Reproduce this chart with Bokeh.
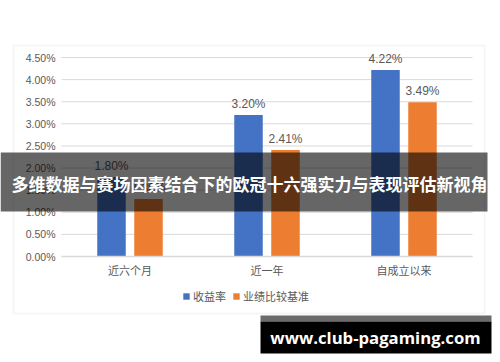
from bokeh.plotting import figure
from bokeh.models import (ColumnDataSource, Range1d, FixedTicker, NumeralTickFormatter,
                          LabelSet, Legend, LegendItem, BoxAnnotation, Label, LinearAxis)
from bokeh.transform import dodge
from bokeh.core.properties import value
from bokeh.embed import file_html
from bokeh.resources import INLINE

# ---- data ----
periods = ["近六个月", "近一年", "自成立以来"]
returns_pct = [1.80, 3.20, 4.22]
benchmark_pct = [1.30, 2.41, 3.49]
series_names = ["收益率", "业绩比较基准"]
y_ticks = [0.0, 0.005, 0.010, 0.015, 0.020, 0.025, 0.030, 0.035, 0.040, 0.045]
banner_text = "多维数据与赛场因素结合下的欧冠十六强实力与表现评估新视角"
watermark_text = "www.club-pagaming.com"

# category centres on a numeric axis (one unit per category)
xc = [i + 0.5 for i in range(len(periods))]
src = ColumnDataSource(dict(
    xc=xc,
    ret=[v / 100 for v in returns_pct],
    bench=[v / 100 for v in benchmark_pct],
    ret_lbl=[f"{v:.2f}%" for v in returns_pct],
    bench_lbl=[f"{v:.2f}%" for v in benchmark_pct],
))
grid_src = ColumnDataSource(dict(y=y_ticks, x0=[0] * len(y_ticks), x1=[len(periods)] * len(y_ticks)))

BLUE = "#4472C4"
ORANGE = "#ED7D31"
TXT = "#595959"
GRID = "#d9d9d9"
NUM_FONT = "Liberation Sans"
CJK_FONT = "Noto Sans CJK SC"

W, H = 500, 362
# layout of the plotting area inside the full canvas (pixels)
PX_L, PX_R, PX_T, PX_B = 61, 472, 57, 256
ux = (PX_R - PX_L) / len(periods)
uy = (PX_B - PX_T) / y_ticks[-1]
x_range = Range1d(-PX_L / ux, len(periods) + (W - PX_R) / ux)
y_range = Range1d(-(H - PX_B) / uy, y_ticks[-1] + PX_T / uy)

p = figure(width=W, height=H, x_range=x_range, y_range=y_range,
           output_backend="svg", toolbar_location=None, x_axis_type=None, y_axis_type=None,
           min_border=0, min_border_left=0, min_border_right=0,
           min_border_top=0, min_border_bottom=0)
p.outline_line_color = None
p.background_fill_color = "white"
p.border_fill_color = "white"
p.xgrid.visible = False
p.ygrid.visible = False

# outer chart frame
p.add_layout(BoxAnnotation(left=13, right=484, top=45, bottom=313,
                           left_units="canvas", right_units="canvas",
                           top_units="canvas", bottom_units="canvas",
                           fill_alpha=0, line_color=GRID, line_width=1.5, level="underlay"))

# horizontal gridlines at the y ticks
p.segment(x0="x0", x1="x1", y0="y", y1="y", source=grid_src, line_color=GRID, line_width=1,
          level="underlay")

# y axis
yaxis = LinearAxis(fixed_location=0, ticker=FixedTicker(ticks=y_ticks),
                   formatter=NumeralTickFormatter(format="0.00%"),
                   axis_line_color=None, major_tick_line_color=None, minor_tick_line_color=None,
                   major_tick_out=0, major_tick_in=0, minor_tick_out=0, minor_tick_in=0,
                   major_label_text_color=TXT, major_label_text_font=NUM_FONT,
                   major_label_text_font_size="10.5px", major_label_standoff=6)
p.add_layout(yaxis, "left")

# x axis
xaxis = LinearAxis(fixed_location=0, ticker=FixedTicker(ticks=xc),
                   major_label_overrides={x: lab for x, lab in zip(xc, periods)},
                   bounds=(0, len(periods)),
                   axis_line_color=GRID, axis_line_width=1.5,
                   major_tick_line_color=None, minor_tick_line_color=None,
                   major_tick_out=0, major_tick_in=0, minor_tick_out=0, minor_tick_in=0,
                   major_label_text_color=TXT, major_label_text_font=CJK_FONT,
                   major_label_text_font_size="11px", major_label_standoff=5)
p.add_layout(xaxis, "below")

OFF = 0.135
BW = 0.208
r1 = p.vbar(x=dodge("xc", -OFF), top="ret", width=BW, source=src,
            fill_color=BLUE, line_color=None)
r2 = p.vbar(x=dodge("xc", OFF), top="bench", width=BW, source=src,
            fill_color=ORANGE, line_color=None)

for xoff, col, lbl in [(-OFF, "ret", "ret_lbl"), (OFF, "bench", "bench_lbl")]:
    p.add_layout(LabelSet(x=dodge("xc", xoff), y=col, text=lbl, source=src,
                          text_align="center", text_baseline="bottom", y_offset=4,
                          text_font=value(NUM_FONT), text_font_size=value("12px"),
                          text_color=TXT))

legend = Legend(items=[LegendItem(label=series_names[0], renderers=[r1]),
                       LegendItem(label=series_names[1], renderers=[r2])],
                orientation="horizontal", location=(182, 58),
                glyph_width=8, glyph_height=8, label_text_font=CJK_FONT,
                label_text_font_size="11px", label_text_color=TXT,
                border_line_color=None, background_fill_alpha=0,
                padding=0, margin=0, spacing=6, label_standoff=3)
p.add_layout(legend)

# banner overlay
p.add_layout(BoxAnnotation(left=0, right=487, top=152, bottom=211,
                           left_units="canvas", right_units="canvas",
                           top_units="canvas", bottom_units="canvas",
                           fill_color="black", fill_alpha=0.6, line_color=None))
p.add_layout(Label(x=249, y=183, x_units="canvas", y_units="canvas", text=banner_text,
                   text_align="center", text_baseline="middle", text_color="white",
                   text_font=CJK_FONT, text_font_style="bold", text_font_size="17px"))

# watermark
p.add_layout(BoxAnnotation(left=260, right=491, top=315, bottom=321,
                           left_units="canvas", right_units="canvas",
                           top_units="canvas", bottom_units="canvas",
                           fill_color="#6b6b6b", fill_alpha=1, line_color=None))
p.add_layout(BoxAnnotation(left=260, right=491, top=321, bottom=353,
                           left_units="canvas", right_units="canvas",
                           top_units="canvas", bottom_units="canvas",
                           fill_color="black", fill_alpha=1, line_color=None))
p.add_layout(Label(x=375, y=337, x_units="canvas", y_units="canvas", text=watermark_text,
                   text_align="center", text_baseline="middle", text_color="white",
                   text_font="Open Sans", text_font_style="bold", text_font_size="16.7px"))

open("out.html", "w").write(file_html(p, INLINE))
